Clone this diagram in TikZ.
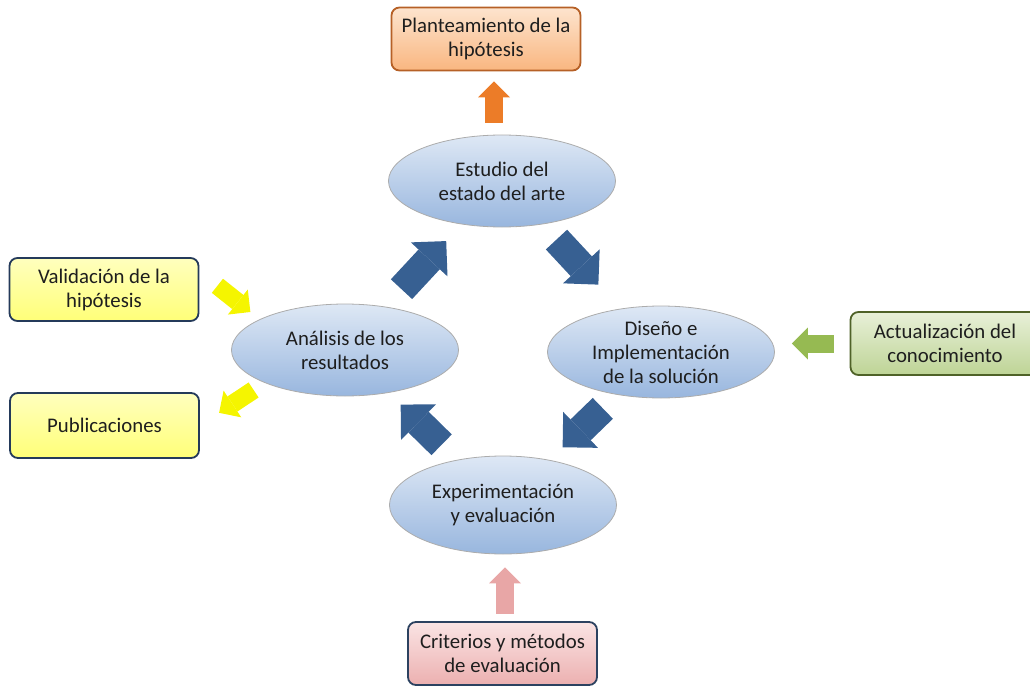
\documentclass[tikz,border=0pt]{standalone}
\usepackage{fontspec}
\setmainfont{Carlito}
\usetikzlibrary{shapes.geometric,arrows.meta}

\definecolor{cycblue}{RGB}{55,96,146}
\definecolor{elltop}{RGB}{222,232,245}
\definecolor{ellbot}{RGB}{152,182,222}
\definecolor{txt}{RGB}{30,30,30}

\begin{document}
\begin{tikzpicture}[x=1pt, y=-1pt,
  cyc/.style={ellipse, draw=gray!65, line width=0.8pt,
              top color=elltop, bottom color=ellbot, align=center,
              text=txt, font=\fontsize{20.8}{24}\selectfont,
              minimum width=227pt, minimum height=92pt, inner sep=0pt},
  box/.style={rectangle, rounded corners=8pt, line width=1.8pt,
              align=center, text=txt, font=\fontsize{20.8}{24}\selectfont,
              minimum width=189pt, minimum height=63pt, inner sep=2pt},
  plan/.style={box, draw={rgb,255:red,182;green,96;blue,38},
               top color={rgb,255:red,253;green,228;blue,206},
               bottom color={rgb,255:red,249;green,182;blue,128}},
  yel/.style={box, draw={rgb,255:red,36;green,58;blue,90},
              top color={rgb,255:red,255;green,255;blue,190},
              bottom color={rgb,255:red,255;green,255;blue,120}},
  grn/.style={box, draw={rgb,255:red,79;green,98;blue,40},
              top color={rgb,255:red,232;green,240;blue,216},
              bottom color={rgb,255:red,190;green,212;blue,150}},
  pnk/.style={box, draw={rgb,255:red,44;green,66;blue,96},
              top color={rgb,255:red,250;green,228;blue,228},
              bottom color={rgb,255:red,236;green,176;blue,176}},
  arr/.style={draw=cycblue, line width=29pt,
              -{Triangle[length=25pt, width=50pt, line width=0pt]}},
  small/.style={line width=18pt,
                -{Triangle[length=16pt, width=32pt, line width=0pt]}},
]
\clip (0,0) rectangle (1030,687);

% Cycle
\node[cyc] (Est) at (502,181) {Estudio del\\estado del arte};
\node[cyc] (Dis) at (661,352) {Diseño e\\Implementación\\de la solución};
\node[cyc, minimum height=98pt] (Exp) at (503,505) {Experimentación\\y evaluación};
\node[cyc] (Ana) at (345,350) {Análisis de los\\resultados};

% Boxes round the cycle
\node[plan] (Plan) at (486,39)    {Planteamiento de la\\hipótesis};
\node[yel]  (Val)  at (104,289.5) {Validación de la\\hipótesis};
\node[yel, minimum height=65pt] (Pub) at (104.5,425.5) {Publicaciones};
\node[grn] (Act) at (945,343.5)  {Actualización del\\conocimiento};
\node[pnk] (Cri) at (502.5,653.5) {Criterios y métodos\\de evaluación};

% Cycle arrows
\draw[arr, shorten <=80pt, shorten >=92pt] (Est.center) -- (Dis.center);
\draw[arr, shorten <=81pt, shorten >=83pt] (Dis.center) -- (Exp.center);
\draw[arr, shorten <=86pt, shorten >=78pt] (Exp.center) -- (Ana.center);
\draw[arr, shorten <=83pt, shorten >=82pt] (Ana.center) -- (Est.center);

% Side arrows
\draw[small, draw={rgb,255:red,236;green,124;blue,40}, shorten <=12pt, shorten >=10pt]
  ([xshift=-8pt]Est.north) -- ([xshift=8pt]Plan.south);
\draw[small, draw={rgb,255:red,150;green,186;blue,82}, shorten <=16pt, shorten >=17pt]
  (Act.west) -- (Act.west -| Dis.east);
\draw[small, draw={rgb,255:red,232;green,166;blue,166}, shorten <=7pt, shorten >=13pt]
  ([xshift=2.5pt]Cri.north) -- ([xshift=2pt]Exp.south);
\draw[small, draw={rgb,255:red,245;green,245;blue,0}, shorten <=23pt, shorten >=18pt]
  ([yshift=18pt]Val.east) -- ([yshift=-6pt]Ana.north west);
\draw[small, draw={rgb,255:red,245;green,245;blue,0}, shorten <=13pt, shorten >=23pt]
  (Ana.south west) -- (Pub.east);

\end{tikzpicture}
\end{document}
